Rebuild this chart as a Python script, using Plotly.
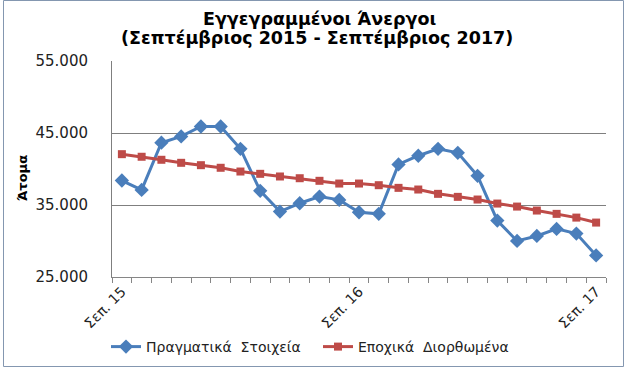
import plotly.graph_objects as go

months = ["Σεπ.", "Οκτ.", "Νοε.", "Δεκ.", "Ιαν.", "Φεβ.", "Μαρ.", "Απρ.", "Μαΐ.", "Ιουν.", "Ιουλ.", "Αυγ."]
categories = []
for i in range(25):
    y = 15 + (8 + i) // 12
    categories.append(f"{months[i % 12]} {y}")

actual = [38400, 37100, 43650, 44520, 45900, 45900, 42800, 36970, 34090, 35240,
          36170, 35710, 33990, 33770, 40630, 41840, 42800, 42250, 39050, 32830,
          30010, 30700, 31680, 31030, 28000]
seasonal = [42060, 41700, 41280, 40860, 40530, 40170, 39650, 39330, 38960, 38720,
            38360, 37980, 37980, 37750, 37380, 37150, 36550, 36130, 35760, 35200,
            34780, 34230, 33770, 33250, 32560]

shown_labels = {"Σεπ. 15", "Σεπ. 16", "Σεπ. 17"}
tick_text = [c if c in shown_labels else "" for c in categories]

title_lines = ["Εγγεγραμμένοι Άνεργοι", "(Σεπτέμβριος 2015 - Σεπτέμβριος 2017)"]
y_title = "Άτομα"

FONT = "DejaVu Sans"
W, H = 638, 374
L, R, T, B = 112, 606, 61, 277


def px_x(p):
    return (p - L) / (R - L)


def px_y(p):
    return (B - p) / (B - T)


fig = go.Figure()
fig.add_trace(go.Scatter(
    x=categories, y=actual, name="Πραγματικά  Στοιχεία", mode="lines+markers",
    line=dict(color="#4A7EBB", width=3),
    marker=dict(symbol="diamond", size=11, color="#4A7EBB"),
))
fig.add_trace(go.Scatter(
    x=categories, y=seasonal, name="Εποχικά  Διορθωμένα", mode="lines+markers",
    line=dict(color="#BE4B48", width=3),
    marker=dict(symbol="square", size=8, color="#BE4B48"),
))

annotations = [
    dict(text=f"<b>{title_lines[0]}</b>", x=px_x(319), xref="paper", y=px_y(19),
         yref="paper", showarrow=False, xanchor="center", yanchor="middle",
         font=dict(family=FONT, size=17.5, color="#000")),
    dict(text=f"<b>{title_lines[1]}</b>", x=px_x(317), xref="paper", y=px_y(38),
         yref="paper", showarrow=False, xanchor="center", yanchor="middle",
         font=dict(family=FONT, size=17.5, color="#000")),
    dict(text=f"<b>{y_title}</b>", x=px_x(22), y=px_y(178), xref="paper", yref="paper",
         textangle=-90, showarrow=False, xanchor="center", yanchor="middle",
         font=dict(family=FONT, size=13, color="#000")),
]

fig.update_layout(
    width=W, height=H,
    margin=dict(l=L, r=W - R, t=T, b=H - B, pad=0, autoexpand=False),
    paper_bgcolor="white", plot_bgcolor="white",
    font=dict(family=FONT, color="#222"),
    separators=",.",
    xaxis=dict(
        type="category", automargin=False, range=[-0.5, 24.5],
        tickmode="array", tickvals=categories, ticktext=tick_text,
        tickson="boundaries", ticks="outside", ticklen=5, tickcolor="#868686",
        tickangle=-45, tickfont=dict(family=FONT, size=14, color="#222"),
        showgrid=False, showline=True, linecolor="#868686", linewidth=1,
        zeroline=False,
    ),
    yaxis=dict(
        range=[25000, 55000], tickmode="linear", tick0=25000, dtick=10000,
        automargin=False,
        tickformat=",d", tickfont=dict(family=FONT, size=15, color="#222"),
        showgrid=True, gridcolor="#7F7F7F", gridwidth=1,
        showline=True, linecolor="#7F7F7F", linewidth=1,
        ticks="", ticklabelstandoff=20, zeroline=False,
    ),
    legend=dict(
        orientation="h", x=px_x(106), xanchor="left",
        y=px_y(347), yanchor="middle",
        font=dict(family=FONT, size=14, color="#222"),
        entrywidth=167, entrywidthmode="pixels",
        bgcolor="rgba(0,0,0,0)",
    ),
    showlegend=True,
    annotations=annotations,
    shapes=[dict(
        type="rect", xref="paper", yref="paper",
        x0=px_x(3.5), x1=px_x(623.5), y0=px_y(366.5), y1=px_y(0.5),
        line=dict(color="#8497B0", width=1), fillcolor="rgba(0,0,0,0)", layer="below",
    )],
)

fig.write_html("out.html", config={"displayModeBar": False},
               post_script="document.body.style.margin='0';")
